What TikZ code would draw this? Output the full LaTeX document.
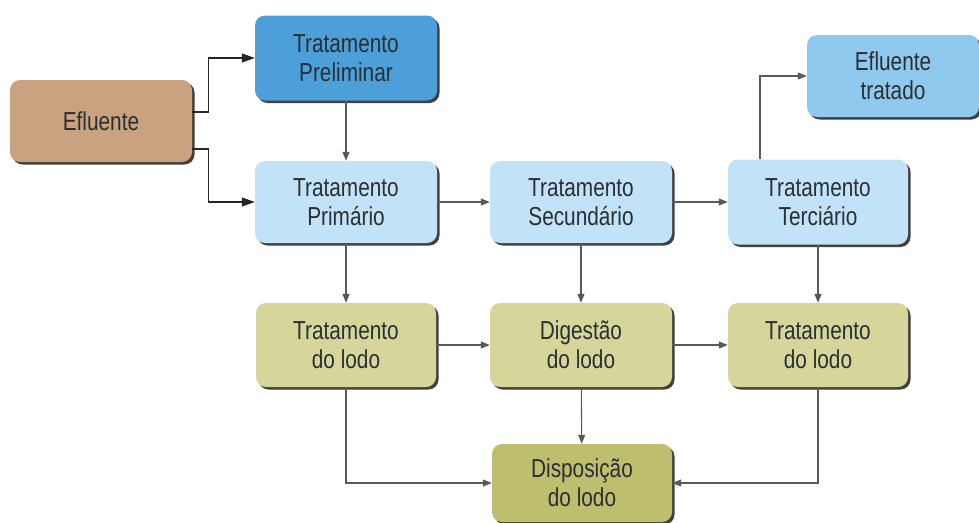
\documentclass[tikz,border=0pt]{standalone}
\usepackage{fontspec}
\setmainfont{Liberation Sans}[FakeStretch=0.8]
\usetikzlibrary{shadows,arrows.meta}
\definecolor{tan}{HTML}{C9A27F}
\definecolor{bluedark}{HTML}{4C9FD9}
\definecolor{bluemid}{HTML}{90C9EE}
\definecolor{bluelight}{HTML}{C2E3F7}
\definecolor{olive}{HTML}{D6D69B}
\definecolor{olivedark}{HTML}{BEBE6F}
\definecolor{ink}{HTML}{2A2F33}
\tikzstyle{box}=[rectangle,rounded corners=10pt,minimum width=182pt,minimum height=82pt,inner sep=0pt,align=center,text=ink,font=\fontsize{26}{29}\selectfont,drop shadow={shadow xshift=2.5pt,shadow yshift=-2.5pt,fill=black!75,opacity=1}]
\tikzstyle{arr}=[draw=black!65,line width=1.1pt,-{Triangle[length=9pt,width=7pt]}]
\tikzstyle{arrb}=[draw=black!85,line width=1.2pt,-{Triangle[length=13pt,width=9pt]}]

\begin{document}
\begin{tikzpicture}[x=1pt,y=-1pt]
    \useasboundingbox (0,0) rectangle (979,522);
    \node[box,fill=tan] (efl) at (101,121) {Efluente};
    \node[box,fill=bluedark,minimum height=85pt] (prel) at (346,58) {Tratamento\\Preliminar};
    \node[box,fill=bluemid,minimum width=172pt] (trat) at (893,76) {Efluente\\tratado};
    \node[box,fill=bluelight] (prim) at (346,202) {Tratamento\\Primário};
    \node[box,fill=bluelight] (sec) at (581,202) {Tratamento\\Secundário};
    \node[box,fill=bluelight,minimum width=180pt,minimum height=85pt] (terc) at (818,202) {Tratamento\\Terciário};
    \node[box,fill=olive,minimum width=180pt,minimum height=84pt] (lodoa) at (346,345) {Tratamento\\do lodo};
    \node[box,fill=olive,minimum height=84pt] (dig) at (581,345) {Digestão\\do lodo};
    \node[box,fill=olive,minimum width=180pt,minimum height=84pt] (lodob) at (818,345) {Tratamento\\do lodo};
    \node[box,fill=olivedark,minimum width=180pt,minimum height=78pt] (disp) at (582,483) {Disposição\\do lodo};

    \draw[arrb] ([yshift=9pt]efl.east) -- ++(16,0) |- (prel);
    \draw[arrb] ([yshift=-28pt]efl.east) -- ++(16,0) |- (prim);
    \draw[arr] ([xshift=-58pt]terc.north) |- (trat);
    \draw[arr] (lodoa) |- (disp);
    \draw[arr] (lodob) |- (disp);
    \foreach \from/\to in {prel/prim,prim/sec,sec/terc,prim/lodoa,sec/dig,terc/lodob,lodoa/dig,dig/lodob,dig/disp}
    \draw[arr] (\from) -- (\to);
\end{tikzpicture}
\end{document}
